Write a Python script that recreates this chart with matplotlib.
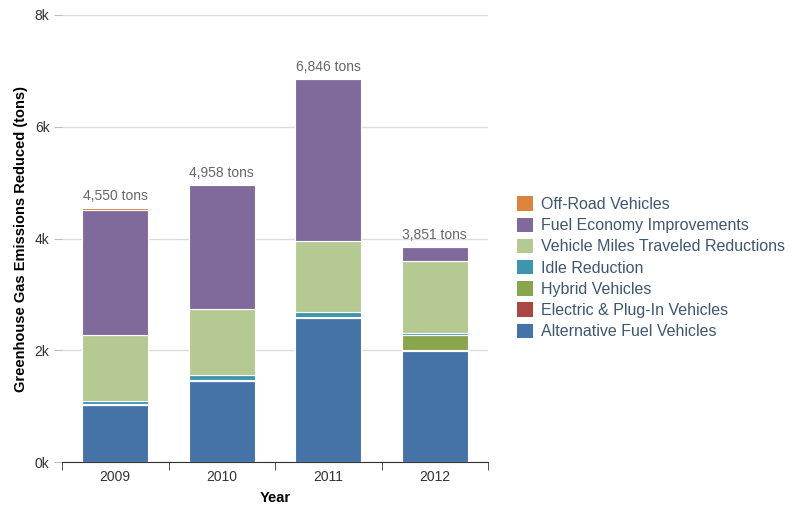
import numpy as np
import matplotlib
matplotlib.use("Agg")
import matplotlib.pyplot as plt
from matplotlib.patches import Patch

plt.rcParams['font.family'] = ['Liberation Sans', 'DejaVu Sans']

# Data (tons of greenhouse gas reduced)
years = ["2009", "2010", "2011", "2012"]
series_names = [
    "Alternative Fuel Vehicles",
    "Electric & Plug-In Vehicles",
    "Hybrid Vehicles",
    "Idle Reduction",
    "Vehicle Miles Traveled Reductions",
    "Fuel Economy Improvements",
    "Off-Road Vehicles",
]
alt_fuel = [1020, 1450, 2580, 1990]
electric = [5, 5, 10, 10]
hybrid = [20, 15, 10, 280]
idle = [40, 85, 90, 35]
vmt = [1190, 1190, 1270, 1280]
fuel_economy = [2235, 2213, 2886, 256]
off_road = [40, 0, 0, 0]
totals = [4550, 4958, 6846, 3851]

colors = ['#4572A7', '#AA4643', '#89A54E', '#3D96AE', '#B5CA92', '#80699B', '#DB843D']
series = [alt_fuel, electric, hybrid, idle, vmt, fuel_economy, off_road]

fig = plt.figure(figsize=(8, 5.08), dpi=100)
ax = fig.add_axes([62 / 800, 46 / 508, 426 / 800, 447 / 508])

x = np.arange(len(years))
bar_w = 0.62
bottom = np.zeros(len(years))
for vals, c in zip(series, colors):
    vals = np.array(vals, dtype=float)
    ax.bar(x, vals, bar_w, bottom=bottom, color=c, edgecolor='white', linewidth=0.8, zorder=3)
    bottom += vals

for i, t in enumerate(totals):
    ax.text(x[i], bottom[i] + 90, f"{t:,} tons", ha='center', va='bottom',
            fontsize=10, color='#666666', zorder=4)

ax.set_xlim(-0.5, 3.5)
ax.set_ylim(0, 8000)
ax.set_yticks([0, 2000, 4000, 6000, 8000])
ax.set_yticklabels(["0k", "2k", "4k", "6k", "8k"], fontsize=10, color='#333333')
ax.yaxis.grid(True, color='#dddddd', linewidth=1, zorder=0)
ax.tick_params(axis='y', length=6, color='#c0c0c0', pad=3)

ax.set_xticks(x)
ax.set_xticklabels(years, fontsize=10, color='#333333')
ax.tick_params(axis='x', which='major', length=0, pad=6)
ax.set_xticks(np.arange(-0.5, 4.0, 1.0), minor=True)
ax.tick_params(axis='x', which='minor', length=6, color='#333333', direction='out')

for s in ['top', 'right', 'left']:
    ax.spines[s].set_visible(False)
ax.spines['bottom'].set_color('#333333')

ax.set_xlabel("Year", fontsize=10.5, fontweight='bold', labelpad=5)
ax.set_ylabel("Greenhouse Gas Emissions Reduced (tons)", fontsize=10.5, fontweight='bold', labelpad=5)

handles = [Patch(facecolor=c, edgecolor='none', label=n) for n, c in zip(series_names, colors)]
fig.legend(handles=handles[::-1], loc='upper left', bbox_to_anchor=(511 / 800, 1 - 190 / 508),
           frameon=False, fontsize=11.5, labelcolor='#3E576F', handlelength=1.0, handleheight=1.0,
           handletextpad=0.5, labelspacing=0.35, borderaxespad=0)

fig.savefig("out.png", dpi=100)
